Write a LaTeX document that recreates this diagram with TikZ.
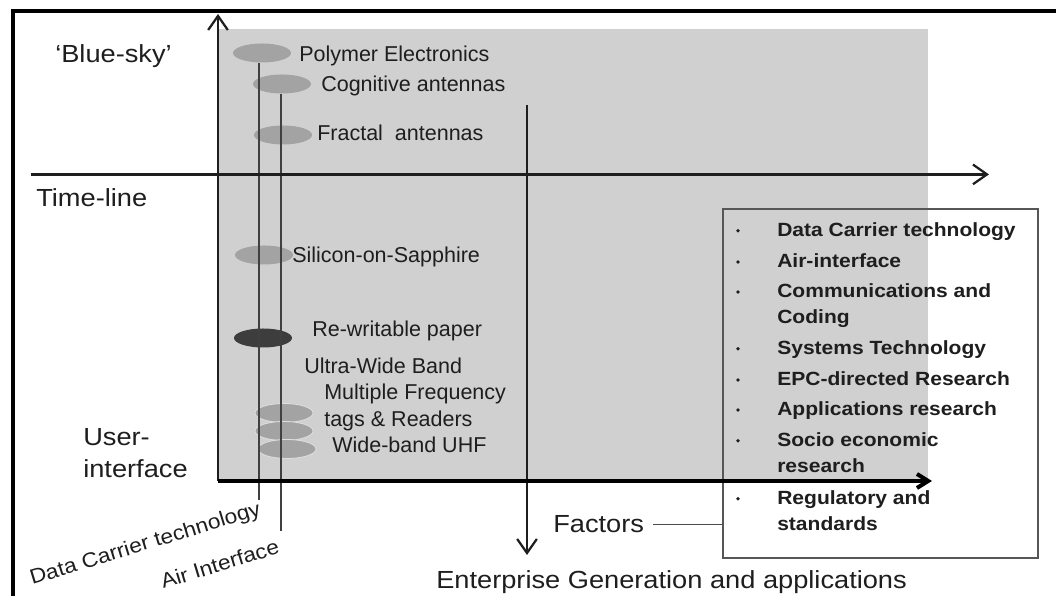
\documentclass[tikz,border=0pt]{standalone}
\usepackage{fontspec}
\setmainfont{Liberation Sans}
\newfontfamily\widefont{Liberation Sans}[FakeStretch=1.1]
\usetikzlibrary{arrows.meta,shapes.geometric}
\definecolor{panel}{HTML}{D0D0D0}
\definecolor{techgrey}{HTML}{A3A3A3}
\definecolor{techdark}{HTML}{3D3D3D}
\definecolor{ink}{HTML}{1E1E1E}

\begin{document}
\begin{tikzpicture}[x=1cm,y=1cm,
 lbl/.style={anchor=base west,inner sep=0pt,text=ink,font=\fontsize{15.3}{18}\selectfont},
 big/.style={anchor=base west,inner sep=0pt,text=ink,font=\widefont\fontsize{17.6}{22.8}\selectfont},
 item/.style={anchor=base west,inner sep=0pt,text=ink,font=\widefont\bfseries\fontsize{13.6}{16}\selectfont},
 slant/.style={anchor=base west,inner sep=0pt,rotate=17,text=ink,font=\widefont\fontsize{14.7}{17}\selectfont},
 tech/.style={ellipse,fill=techgrey,minimum width=1.45cm,minimum height=.475cm,inner sep=0pt},
 stack/.style={tech,draw=panel!70!white,line width=.6pt},
 track/.style={draw=ink!85,line width=.9pt},
 axis/.style={draw=ink,line width=1.6pt,-{Straight Barb[length=10pt,width=14pt]}},
 baseaxis/.style={draw=black,line width=2.85pt,-{Straight Barb[length=8pt,width=10pt]}},
 dot/.style={circle,fill=ink,inner sep=0pt,minimum size=.09cm}]
\path[use as bounding box] (0,0) rectangle (26.4,14.9);
\draw[line width=2.85pt] (.325,0) -- (.325,14.625) -- (26.4,14.625);
\fill[panel] (5.45,2.875) rectangle (23.2,14.175);
% technology ellipses on the time axis
\node[tech] (poly) at (6.55,13.575) {};
\node[tech] (cogn) at (7.05,12.8) {};
\node[tech] (fract) at (7.075,11.525) {};
\node[tech] (sos) at (6.6,8.525) {};
\node[tech,fill=techdark] (paper) at (6.575,6.45) {};
\node[stack] (uwb) at (7.1,4.575) {};
\node[stack] (mft) at (7.1,4.125) {};
\node[stack] (uhf) at (7.175,3.675) {};
\coordinate (dct) at (6.475,2.4);
\coordinate (air) at (7.025,1.625);
\draw[track] (dct |- poly.south) -- (dct);
\draw[track] (air |- cogn.south) -- (air);
\node[lbl] (polylbl) at (7.475,13.35) {Polymer Electronics};
\node[lbl] (cognlbl) at (8.025,12.61) {Cognitive antennas};
\node[lbl] (fractlbl) at (7.925,11.375) {Fractal\ \ antennas};
\node[lbl] (soslbl) at (7.3,8.325) {Silicon-on-Sapphire};
\node[lbl] (paperlbl) at (7.8,6.475) {Re-writable paper};
\node[lbl] (uwblbl) at (7.6,5.55) {Ultra-Wide Band};
\node[lbl] (mftlbl) at (8.1,4.9) {Multiple Frequency};
\node[lbl] (taglbl) at (8.1,4.225) {tags \& Readers};
\node[lbl] (uhflbl) at (8.3,3.575) {Wide-band UHF};
% axes
\coordinate (org) at (5.45,2.875);
\coordinate (ytip) at (5.45,14.55);
\coordinate (xtip) at (23.3,2.875);
\coordinate (tl0) at (.775,10.54);
\coordinate (tl1) at (24.725,10.54);
\coordinate (ent0) at (13.175,12.275);
\coordinate (ent1) at (13.175,1.025);
\node[draw=ink!75,line width=.8pt,minimum width=7.875cm,minimum height=8.725cm,inner sep=0pt]
 (factorbox) at (22.0125,5.3125) {};
\draw[axis] (org) -- (ytip);
\draw[axis] (tl0) -- (tl1);
\draw[axis] (ent0) -- (ent1);
\draw[baseaxis] (org) -- (xtip);
\node[big] (bluesky) at (1.375,13.325) {‘Blue-sky’};
\node[big] (timeline) at (.9,9.725) {Time-line};
\node[big,anchor=west,align=left] (userif) at (2.075,3.575) {User-\\interface};
\node[slant] (dctlbl) at (.8,.275) {Data Carrier technology};
\node[slant] (airlbl) at (4.075,.175) {Air Interface};
\node[big] (factors) at (13.825,1.575) {Factors};
\draw[draw=ink!80,line width=.8pt] ([xshift=.22cm]factors.east) -- (factors.east -| factorbox.west);
\node[big] (enterprise) at (10.9,.175) {Enterprise Generation and applications};
% factor list
\foreach \y/\t [count=\i] in {8.99/Data Carrier technology,8.21/Air-interface,
 7.46/Communications and,6.81/Coding,6.04/Systems Technology,5.26/EPC-directed Research,
 4.51/Applications research,3.74/Socio economic,3.09/research,2.29/Regulatory and,1.64/standards}
 \node[item] (line\i) at (19.425,\y) {\t};
\foreach \y [count=\i] in {8.99,8.21,7.46,6.04,5.26,4.51,3.74,2.29}
 \node[dot] (dot\i) at (18.45,{\y+.14}) {};
\end{tikzpicture}
\end{document}
